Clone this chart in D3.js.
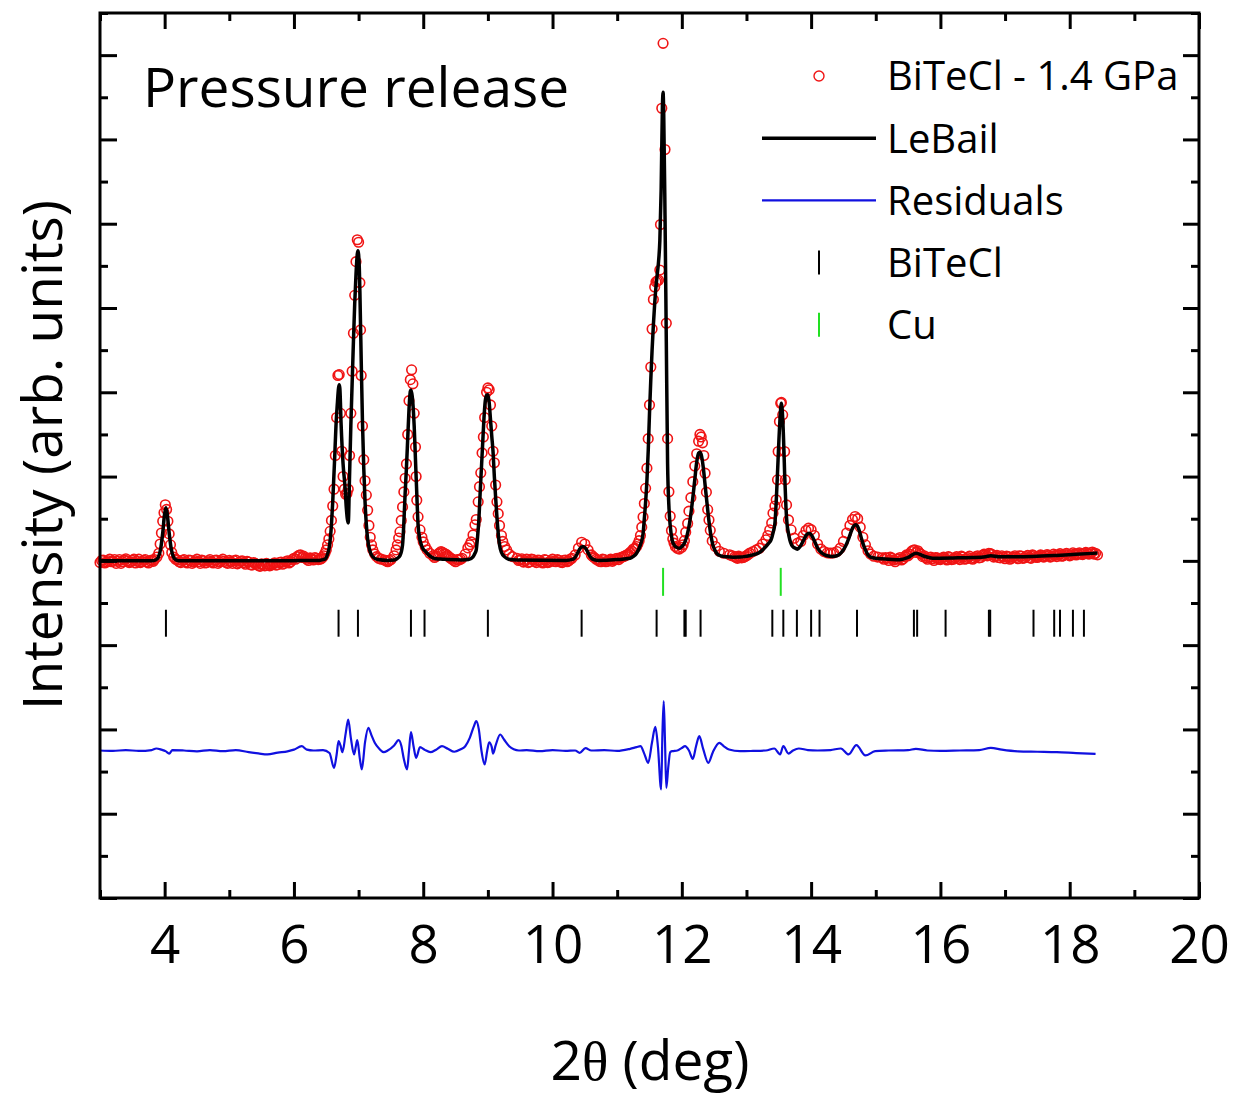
<!DOCTYPE html>
<html>
<head>
<meta charset="utf-8">
<script src="https://cdn.jsdelivr.net/npm/d3@7"></script>
<style>
body { margin: 0; background: #fff; }
text { font-family: "Open Sans", sans-serif; }
</style>
</head>
<body>
<div id="chart"></div>
<script>
// observed pattern, [2theta (deg), intensity]
var observed = [
  [3.00,-20],[3.05,10],[3.10,-15],[3.15,20],[3.20,-5],[3.25,-30],[3.30,15],[3.35,-10],[3.40,25],[3.45,-20],
  [3.50,5],[3.55,-25],[3.60,20],[3.65,-10],[3.70,15],[3.75,-25],[3.80,10],
  [3.84,15],[3.88,45],[3.91,90],[3.93,200],[3.95,330],[3.97,470],[3.99,570],[4.01,665],[4.03,610],[4.05,470],
  [4.07,320],[4.09,190],[4.11,100],[4.14,45],[4.17,20],
  [4.20,10],[4.25,-20],[4.30,15],[4.35,-25],[4.40,5],[4.45,-15],[4.50,20],[4.55,-30],[4.60,0],[4.65,-20],
  [4.70,15],[4.75,-25],[4.80,10],[4.85,-15],[4.90,20],[4.95,-20],[5.00,5],[5.05,-30],[5.10,10],[5.15,-20],
  [5.20,0],[5.25,-40],[5.30,-15],[5.35,-50],[5.40,-30],[5.45,-55],[5.50,-35],[5.55,-60],[5.60,-40],[5.65,-50],
  [5.70,-25],[5.75,-45],[5.80,-15],[5.85,-30],[5.90,0],[5.95,-10],[6.00,30],[6.05,50],[6.10,70],[6.15,55],
  [6.20,20],[6.25,35],[6.30,10],[6.35,30],[6.40,20],
  [6.42,25],[6.44,40],[6.46,60],[6.48,90],[6.50,130],[6.52,190],[6.54,260],[6.56,350],[6.58,480],[6.60,650],
  [6.62,850],[6.64,1250],[6.66,1700],[6.68,2200],[6.70,2210],[6.72,1750],[6.74,1300],[6.76,1000],[6.78,850],
  [6.80,790],[6.82,800],[6.84,850],[6.86,1250],[6.88,1750],[6.90,2250],[6.92,2700],[6.94,3150],[6.96,3550],
  [6.98,3810],[7.00,3780],[7.02,3300],[7.03,2740],[7.04,2200],[7.06,1600],[7.08,1200],[7.10,950],[7.12,780],
  [7.14,600],[7.16,420],[7.18,280],[7.20,190],[7.22,130],[7.25,80],[7.28,50],[7.31,30],[7.35,20],[7.40,10],
  [7.45,-10],
  [7.50,15],[7.55,60],[7.58,130],[7.60,190],[7.62,270],[7.64,344],[7.66,480],[7.68,640],[7.70,818],[7.72,980],
  [7.74,1150],[7.76,1500],[7.78,1900],[7.80,2150],[7.82,2266],[7.84,2100],[7.86,1750],[7.88,1350],[7.89,1000],
  [7.90,720],[7.92,522],[7.95,368],[7.98,280],[8.00,225],[8.03,170],[8.06,130],[8.10,90],
  [8.15,60],[8.20,55],[8.25,95],[8.30,100],[8.35,80],[8.40,45],[8.45,20],[8.50,-10],[8.55,10],
  [8.60,30],[8.65,80],[8.69,154],[8.72,190],[8.74,225],[8.77,308],[8.80,427],[8.82,490],[8.85,700],[8.87,880],
  [8.89,1044],[8.91,1281],[8.93,1470],[8.95,1700],[8.98,2000],[9.00,2052],[9.02,2030],[9.04,1850],[9.06,1600],
  [9.08,1300],[9.10,1163],[9.12,900],[9.14,700],[9.16,560],[9.18,420],[9.21,300],[9.23,230],[9.26,170],
  [9.29,130],[9.33,80],[9.38,50],
  [9.45,30],[9.50,10],[9.55,-15],[9.60,20],[9.65,-10],[9.70,15],[9.75,-20],[9.80,5],[9.85,-25],[9.90,10],
  [9.95,-15],[10.00,20],[10.05,-10],[10.10,5],[10.15,-20],[10.20,10],[10.25,0],
  [10.30,30],[10.35,70],[10.40,150],[10.45,220],[10.50,200],[10.55,130],[10.60,70],
  [10.65,35],[10.70,10],[10.75,-10],[10.80,15],[10.85,-5],[10.90,20],[10.95,10],[11.00,30],[11.05,36],
  [11.10,50],[11.15,72],[11.20,100],[11.25,140],
  [11.30,170],[11.32,200],[11.34,240],[11.36,300],[11.38,400],[11.40,520],[11.42,680],[11.44,860],[11.46,1100],
  [11.48,1450],[11.50,1850],[11.52,2300],[11.54,2750],[11.56,3100],[11.58,3250],[11.60,3310],[11.62,3320],
  [11.64,3330],[11.66,3450],[11.67,3990],[11.69,5370],[11.71,6140],[11.74,4880],[11.76,2820],[11.78,1450],
  [11.80,820],[11.82,530],[11.84,360],[11.86,260],[11.88,210],[11.90,170],[11.93,150],[11.96,140],[12.00,160],
  [12.02,190],[12.04,240],[12.06,340],[12.09,444],[12.11,590],[12.14,750],[12.17,940],[12.20,1125],[12.23,1270],
  [12.26,1420],[12.28,1500],[12.30,1470],[12.32,1400],[12.34,1250],[12.36,1040],[12.38,815],[12.40,608],
  [12.42,485],[12.44,362],[12.47,237],[12.52,170],[12.58,114],[12.65,90],[12.74,72],
  [12.82,50],[12.86,30],[12.90,45],[12.95,40],[13.00,60],
  [13.05,91],[13.10,110],[13.15,130],[13.20,150],[13.25,200],[13.30,249],[13.33,300],[13.36,368],[13.39,450],
  [13.41,566],[13.44,650],[13.46,724],[13.48,961],[13.49,1297],[13.51,1653],[13.53,1870],[13.54,1880],
  [13.56,1732],[13.59,1297],[13.60,961],[13.62,664],[13.65,486],[13.69,368],[13.74,269],[13.79,210],[13.84,230],
  [13.88,300],[13.92,360],[13.96,388],[14.00,370],[14.05,300],[14.10,200],[14.15,140],[14.20,110],[14.25,95],
  [14.30,91],[14.35,95],[14.40,110],[14.45,150],[14.50,230],[14.55,330],[14.60,420],[14.64,490],[14.68,526],
  [14.72,500],[14.76,400],[14.80,280],[14.84,190],[14.88,120],[14.92,80],[14.97,55],[15.03,45],[15.10,35],
  [15.15,40],[15.20,5],[15.25,30],[15.30,-10],[15.35,25],[15.40,10],[15.45,50],[15.50,60],[15.55,110],
  [15.60,130],[15.65,120],[15.70,80],[15.75,60],[15.80,20],[15.85,45],[15.90,5],[15.95,35],[16.00,15],
  [16.05,45],[16.10,10],[16.15,40],[16.20,20],[16.25,50],[16.30,15],[16.35,45],[16.40,25],[16.45,55],
  [16.50,20],[16.55,50],[16.60,35],[16.65,65],[16.70,70],[16.75,90],[16.80,75],[16.85,55],[16.90,40],
  [16.95,60],[17.00,25],[17.05,50],[17.10,30],[17.15,60],[17.20,25],[17.25,55],[17.30,35],[17.35,65],
  [17.40,30],[17.45,60],[17.50,40],[17.55,70],[17.60,45],[17.65,75],[17.70,45],[17.75,80],[17.80,50],
  [17.85,85],[17.90,60],[17.95,90],[18.00,60],[18.05,95],[18.10,70],[18.15,95],[18.20,75],[18.25,100],
  [18.30,80],[18.35,105],[18.40,90],[18.43,71],
  // in-between points of the flat stretches
  [3.025,5],[3.075,-25],[3.125,0],[3.175,-10],[3.225,15],[3.275,-5],[3.325,-30],[3.375,10],[3.425,0],
  [3.475,-15],[3.525,20],[3.575,-5],[3.625,-20],[3.675,5],[3.725,-15],[3.775,0],[3.825,-5],
  [4.225,-10],[4.275,5],[4.325,-15],[4.375,10],[4.425,-30],[4.475,0],[4.525,-10],[4.575,10],[4.625,-25],
  [4.675,0],[4.725,-10],[4.775,5],[4.825,-30],[4.875,0],[4.925,-5],[4.975,-30],[5.025,-10],[5.075,0],
  [5.125,-35],[5.175,-5],[5.225,-20],[5.275,-5],[5.325,-45],[5.375,-20],[5.425,-40],[5.475,-65],[5.525,-45],
  [5.575,-30],[5.625,-60],[5.675,-35],[5.725,-50],[5.775,-20],[5.825,-40],[5.875,-10],[5.925,-25],[5.975,15],
  [6.025,20],[6.075,65],[6.125,40],[6.175,35],[6.225,5],[6.275,25],[6.325,40],[6.375,15],
  [7.425,0],[7.475,5],
  [8.175,40],[8.225,80],[8.275,110],[8.325,85],[8.375,65],[8.425,30],[8.475,5],[8.525,15],[8.575,20],
  [9.475,5],[9.525,25],[9.575,0],[9.625,-20],[9.675,20],[9.725,-5],[9.775,10],[9.825,-15],[9.875,15],
  [9.925,-20],[9.975,0],[10.025,-5],[10.075,15],[10.125,-15],[10.175,5],[10.225,-10],[10.275,20],
  [10.625,50],[10.675,20],[10.725,-5],[10.775,20],[10.825,-10],[10.875,10],[10.925,-5],[10.975,25],
  [11.025,15],[11.075,45],[11.125,60],[11.175,80],[11.225,115],[11.275,150],
  [12.78,60],[12.84,40],[12.88,55],[12.925,35],[12.975,50],[13.025,75],
  [15.125,20],[15.175,30],[15.225,45],[15.275,10],[15.325,20],[15.375,40],[15.425,25],[15.475,70],[15.525,80],
  [15.575,125],[15.625,100],[15.675,95],[15.725,50],[15.775,35],[15.825,40],[15.875,25],[15.925,40],
  [15.975,20],[16.025,30],[16.075,25],[16.125,50],[16.175,15],[16.225,35],[16.275,30],[16.325,55],[16.375,20],
  [16.425,40],[16.475,30],[16.525,35],[16.575,60],[16.625,40],[16.675,80],[16.725,60],[16.775,85],[16.825,45],
  [16.875,65],[16.925,35],[16.975,45],[17.025,55],[17.075,20],[17.125,45],[17.175,40],[17.225,60],[17.275,30],
  [17.325,50],[17.375,40],[17.425,70],[17.475,45],[17.525,55],[17.575,50],[17.625,60],[17.675,65],[17.725,55],
  [17.775,65],[17.825,70],[17.875,55],[17.925,75],[17.975,75],[18.025,70],[18.075,80],[18.125,85],[18.175,80],
  [18.225,90],[18.275,85],[18.325,95],[18.375,80]
];

// LeBail fit
var lebail = [
  [3.00,0],[3.50,0],[3.80,0],[3.86,10],[3.90,40],[3.94,150],[3.97,330],[4.00,560],[4.02,630],[4.04,560],
  [4.07,330],[4.10,150],[4.14,40],[4.18,10],[4.22,0],[5.00,0],[5.80,0],[6.10,5],[6.40,5],[6.45,15],[6.48,20],
  [6.52,80],[6.55,180],[6.58,427],[6.60,700],[6.63,1222],[6.65,1600],[6.67,1850],[6.69,2050],[6.70,2088],
  [6.71,2050],[6.73,1613],[6.76,1150],[6.79,880],[6.81,629],[6.84,450],[6.86,1000],[6.88,1600],[6.90,2100],
  [6.92,2600],[6.94,3050],[6.96,3400],[6.98,3640],[6.99,3680],[7.01,3500],[7.02,3200],[7.04,2400],[7.06,1650],
  [7.08,1100],[7.10,700],[7.12,430],[7.14,260],[7.17,130],[7.22,47],[7.30,15],[7.45,5],[7.55,10],[7.60,30],
  [7.64,60],[7.68,190],[7.70,450],[7.72,800],[7.74,1100],[7.76,1450],[7.78,1800],[7.80,2010],[7.81,2028],
  [7.83,1950],[7.85,1750],[7.86,1600],[7.88,1200],[7.90,800],[7.92,430],[7.94,290],[7.97,190],[8.00,140],
  [8.03,115],[8.06,90],[8.10,60],[8.15,35],[8.20,25],[8.30,20],[8.40,15],[8.60,10],[8.70,15],[8.77,47],
  [8.80,90],[8.82,130],[8.84,280],[8.86,480],[8.88,800],[8.90,1100],[8.92,1400],[8.94,1700],[8.96,1900],
  [8.98,1965],[9.00,1970],[9.02,1880],[9.04,1680],[9.06,1480],[9.08,1293],[9.10,1000],[9.12,750],[9.14,520],
  [9.16,330],[9.18,190],[9.21,100],[9.26,47],[9.32,20],[9.45,10],[10.20,5],[10.32,20],[10.38,80],[10.42,140],
  [10.47,170],[10.52,140],[10.56,80],[10.62,20],[10.70,5],[11.00,15],[11.20,30],[11.25,52],[11.30,90],
  [11.35,170],[11.40,320],[11.42,500],[11.44,700],[11.46,950],[11.48,1300],[11.50,1750],[11.52,2150],
  [11.54,2500],[11.56,2800],[11.58,3050],[11.60,3250],[11.62,3400],[11.64,3550],[11.66,3800],[11.68,4400],
  [11.70,5400],[11.71,5560],[11.72,5300],[11.74,4100],[11.76,2600],[11.78,1150],[11.80,650],[11.82,420],
  [11.85,250],[11.88,190],[11.92,160],[11.96,150],[12.00,170],[12.04,210],[12.08,300],[12.12,450],[12.16,680],
  [12.20,960],[12.23,1170],[12.26,1280],[12.28,1290],[12.30,1260],[12.33,1120],[12.36,900],[12.39,680],
  [12.42,470],[12.45,300],[12.48,190],[12.51,130],[12.55,80],[12.60,60],[12.70,48],[12.80,44],[12.90,45],
  [13.00,55],[13.10,71],[13.20,100],[13.25,130],[13.30,170],[13.35,215],[13.38,249],[13.41,330],[13.44,447],
  [13.46,700],[13.48,1040],[13.50,1400],[13.52,1700],[13.54,1870],[13.56,1700],[13.58,1300],[13.59,1040],
  [13.61,650],[13.63,420],[13.64,368],[13.67,250],[13.70,185],[13.73,160],[13.76,148],[13.79,139],[13.83,170],
  [13.88,240],[13.93,310],[13.97,328],[14.01,300],[14.06,220],[14.11,140],[14.17,90],[14.25,60],[14.33,52],
  [14.40,60],[14.47,100],[14.53,170],[14.58,260],[14.62,350],[14.66,415],[14.69,427],[14.73,390],[14.77,290],
  [14.80,210],[14.84,130],[14.88,70],[14.92,45],[15.00,30],[15.10,25],[15.20,20],[15.37,12],[15.50,40],
  [15.62,91],[15.75,55],[15.88,32],[16.20,35],[16.50,40],[16.70,50],[16.78,60],[16.90,48],[17.20,48],
  [17.43,52],[17.80,65],[18.10,78],[18.43,92]
];

// observed minus calculated
var residuals = [
  [3.00,0],[3.20,-5],[3.40,5],[3.60,-5],[3.80,5],[3.87,24],[3.95,10],[4.02,-10],[4.07,-36],[4.12,5],[4.30,0],
  [4.50,-10],[4.70,5],[4.90,-8],[5.10,5],[5.30,-20],[5.45,-35],[5.59,-47],[5.75,-25],[5.90,-10],[6.00,10],
  [6.12,51],[6.20,10],[6.30,0],[6.45,5],[6.55,-30],[6.62,-206],[6.66,-50],[6.69,111],[6.72,60],[6.75,-20],
  [6.80,200],[6.84,368],[6.88,150],[6.93,-47],[6.96,60],[6.98,122],[7.02,-100],[7.05,-225],[7.10,100],
  [7.15,269],[7.20,180],[7.25,91],[7.32,20],[7.39,-20],[7.45,0],[7.55,60],[7.62,122],[7.66,60],[7.70,-100],
  [7.75,-225],[7.78,0],[7.81,217],[7.85,50],[7.89,-87],[7.95,39],[8.02,10],[8.11,-20],[8.20,10],[8.29,51],
  [8.38,20],[8.48,-15],[8.58,15],[8.65,51],[8.72,150],[8.78,280],[8.82,348],[8.86,250],[8.90,0],[8.95,-166],
  [8.99,0],[9.02,98],[9.06,40],[9.08,-36],[9.12,60],[9.19,190],[9.25,130],[9.33,51],[9.40,15],[9.48,0],
  [9.60,5],[9.80,-8],[10.00,5],[10.20,-5],[10.35,0],[10.42,-27],[10.51,28],[10.60,0],[10.80,5],[11.00,-5],
  [11.20,20],[11.30,40],[11.36,51],[11.42,-40],[11.48,-146],[11.54,100],[11.59,281],[11.63,50],[11.68,-463],
  [11.70,200],[11.72,585],[11.74,100],[11.76,-443],[11.79,-200],[11.82,-20],[11.85,-8],[11.93,0],[12.00,30],
  [12.05,51],[12.11,0],[12.17,-99],[12.22,50],[12.27,170],[12.33,20],[12.41,-146],[12.48,-20],[12.58,91],
  [12.65,50],[12.73,12],[12.90,-8],[13.10,-5],[13.30,0],[13.43,24],[13.52,-47],[13.57,51],[13.65,-36],
  [13.72,0],[13.81,24],[13.95,5],[14.10,0],[14.30,5],[14.46,24],[14.58,-47],[14.70,63],[14.84,-59],
  [14.99,-8],[15.20,0],[15.50,5],[15.62,20],[15.80,0],[16.00,-5],[16.30,0],[16.60,5],[16.78,32],[16.95,10],
  [17.20,-10],[17.50,-15],[17.80,-20],[18.10,-30],[18.40,-39]
];
var residualOffset = -2250;

// reflection positions (deg)
var biteclPeaks = [4.02, 6.69, 6.99, 7.81, 8.02, 9.00, 10.45, 11.61, 12.04, 12.06, 12.29, 13.40, 13.57,
  13.78, 14.00, 14.13, 14.71, 15.59, 15.64, 16.08, 16.75, 16.77, 17.44, 17.76, 17.85, 18.05, 18.22];
var cuPeaks = [11.71, 13.53];
var biteclRow = [-580, -900];
var cuRow = [-83, -415];

var xTicks = [4, 6, 8, 10, 12, 14, 16, 18, 20];
var xMinorTicks = [3, 5, 7, 9, 11, 13, 15, 17, 19];
var yTicks = [-4000, -3000, -2000, -1000, 0, 1000, 2000, 3000, 4000, 5000, 6000];
var yMinorTicks = [-3500, -2500, -1500, -500, 500, 1500, 2500, 3500, 4500, 5500, 6500];

var legendLabels = ["BiTeCl - 1.4 GPa", "LeBail", "Residuals", "BiTeCl", "Cu"];
var legendKinds = ["circle", "line", "resid", "tick", "cu"];

var width = 1236, height = 1097;
var margin = {top: 13, right: 37, bottom: 199, left: 100};

var svg = d3.select("#chart").append("svg")
    .attr("width", width)
    .attr("height", height);

var x = d3.scaleLinear().domain([3, 20]).range([margin.left, width - margin.right]);
var y = d3.scaleLinear().domain([-4000, 6500]).range([height - margin.bottom, margin.top]);

var red = "#f01414", blue = "#1010e0", green = "#22e022";

// reflection markers
svg.append("g").selectAll("line")
    .data(biteclPeaks).enter().append("line")
    .attr("x1", function(d) { return x(d); })
    .attr("x2", function(d) { return x(d); })
    .attr("y1", y(biteclRow[0]))
    .attr("y2", y(biteclRow[1]))
    .attr("stroke", "#000")
    .attr("stroke-width", 2);

svg.append("g").selectAll("line")
    .data(cuPeaks).enter().append("line")
    .attr("x1", function(d) { return x(d); })
    .attr("x2", function(d) { return x(d); })
    .attr("y1", y(cuRow[0]))
    .attr("y2", y(cuRow[1]))
    .attr("stroke", green)
    .attr("stroke-width", 2);

// residuals
var residLine = d3.line()
    .x(function(d) { return x(d[0]); })
    .y(function(d) { return y(d[1] + residualOffset); })
    .curve(d3.curveMonotoneX);

svg.append("path")
    .datum(residuals)
    .attr("fill", "none")
    .attr("stroke", blue)
    .attr("stroke-width", 2.2)
    .attr("d", residLine);

// observed points
svg.append("g").selectAll("circle")
    .data(observed).enter().append("circle")
    .attr("cx", function(d) { return x(d[0]); })
    .attr("cy", function(d) { return y(d[1]); })
    .attr("r", 4.8)
    .attr("fill", "none")
    .attr("stroke", red)
    .attr("stroke-width", 1.6);

// fit
var fitLine = d3.line()
    .x(function(d) { return x(d[0]); })
    .y(function(d) { return y(d[1]); })
    .curve(d3.curveMonotoneX);

svg.append("path")
    .datum(lebail)
    .attr("fill", "none")
    .attr("stroke", "#000")
    .attr("stroke-width", 3.5)
    .attr("stroke-linejoin", "round")
    .attr("d", fitLine);

// axes, ticks pointing inward
function styleAxis(g) {
  g.select(".domain").remove();
  g.selectAll(".tick line").attr("stroke", "#000").attr("stroke-width", 3);
  g.selectAll(".tick text")
    .attr("font-family", "Open Sans")
    .attr("font-size", 53)
    .attr("fill", "#000");
}
var bottomY = y.range()[0], topY = y.range()[1];
var leftX = x.range()[0], rightX = x.range()[1];

svg.append("g").attr("transform", "translate(0," + bottomY + ")")
    .call(d3.axisBottom(x).tickValues(xTicks).tickSize(-16).tickPadding(27).tickFormat(d3.format("d")))
    .call(styleAxis);
svg.append("g").attr("transform", "translate(0," + bottomY + ")")
    .call(d3.axisBottom(x).tickValues(xMinorTicks).tickSize(-8).tickFormat(""))
    .call(styleAxis);
svg.append("g").attr("transform", "translate(0," + topY + ")")
    .call(d3.axisTop(x).tickValues(xTicks).tickSize(-16).tickFormat(""))
    .call(styleAxis);
svg.append("g").attr("transform", "translate(0," + topY + ")")
    .call(d3.axisTop(x).tickValues(xMinorTicks).tickSize(-8).tickFormat(""))
    .call(styleAxis);
svg.append("g").attr("transform", "translate(" + leftX + ",0)")
    .call(d3.axisLeft(y).tickValues(yTicks).tickSize(-17).tickFormat(""))
    .call(styleAxis);
svg.append("g").attr("transform", "translate(" + leftX + ",0)")
    .call(d3.axisLeft(y).tickValues(yMinorTicks).tickSize(-8).tickFormat(""))
    .call(styleAxis);
svg.append("g").attr("transform", "translate(" + rightX + ",0)")
    .call(d3.axisRight(y).tickValues(yTicks).tickSize(-16).tickFormat(""))
    .call(styleAxis);
svg.append("g").attr("transform", "translate(" + rightX + ",0)")
    .call(d3.axisRight(y).tickValues(yMinorTicks).tickSize(-8).tickFormat(""))
    .call(styleAxis);

svg.append("rect")
    .attr("x", leftX).attr("y", topY)
    .attr("width", rightX - leftX).attr("height", bottomY - topY)
    .attr("fill", "none")
    .attr("stroke", "#000")
    .attr("stroke-width", 3);

// axis titles
var xTitle = svg.append("text")
    .attr("x", 650).attr("y", 1080)
    .attr("text-anchor", "middle")
    .attr("font-size", 55);
xTitle.append("tspan").text("2");
xTitle.append("tspan").attr("font-family", "Liberation Serif").text("θ");
xTitle.append("tspan").text(" (deg)");

svg.append("text")
    .attr("transform", "translate(62,455) rotate(-90)")
    .attr("text-anchor", "middle")
    .attr("font-size", 55)
    .text("Intensity (arb. units)");

svg.append("text")
    .attr("x", 143).attr("y", 107)
    .attr("font-size", 55)
    .text("Pressure release");

// legend
var legend = svg.append("g").selectAll("g")
    .data(legendLabels).enter().append("g")
    .attr("transform", function(d, i) { return "translate(819," + (76 + i * 62.2) + ")"; });

legend.append("text")
    .attr("x", 68)
    .attr("dy", "0.36em")
    .attr("font-size", 40)
    .text(function(d) { return d; });

legend.each(function(d, i) {
  var g = d3.select(this), kind = legendKinds[i];
  if (kind === "circle") {
    g.append("circle").attr("r", 5).attr("fill", "none").attr("stroke", red).attr("stroke-width", 1.4);
  } else if (kind === "line" || kind === "resid") {
    g.append("line").attr("x1", -57).attr("x2", 57)
      .attr("stroke", kind === "line" ? "#000" : blue)
      .attr("stroke-width", kind === "line" ? 3.5 : 2.2);
  } else {
    g.append("line").attr("y1", -12).attr("y2", 12)
      .attr("stroke", kind === "tick" ? "#000" : green)
      .attr("stroke-width", 2);
  }
});
</script>
</body>
</html>
